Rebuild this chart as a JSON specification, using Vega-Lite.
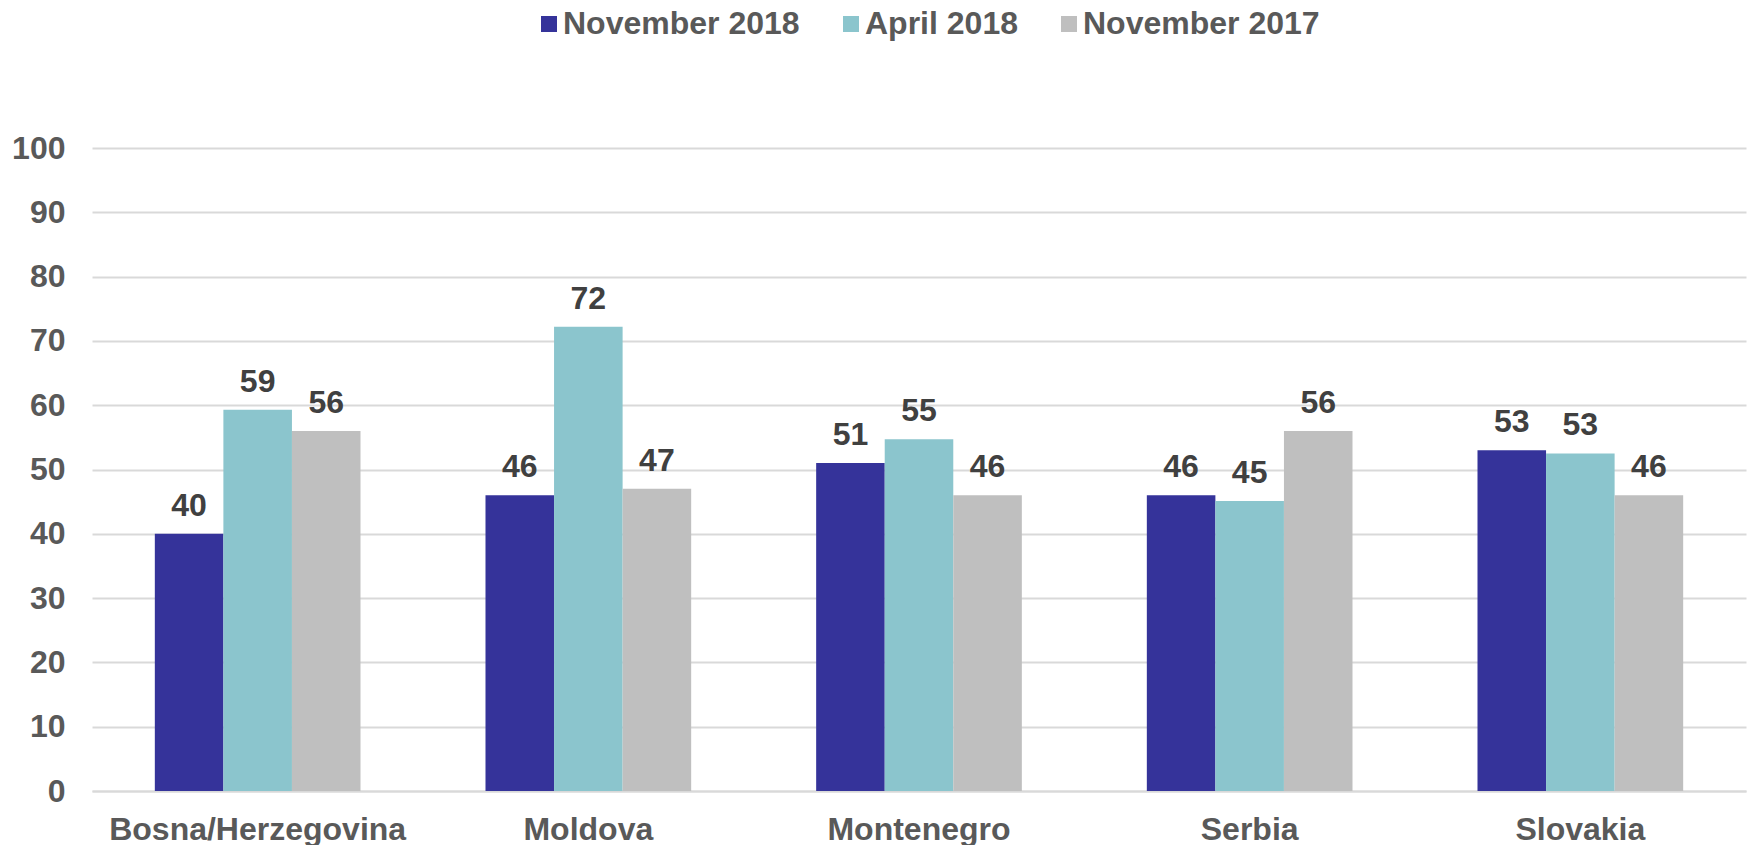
{
  "$schema": "https://vega.github.io/schema/vega-lite/v6.json",
  "width": 1654,
  "height": 643,
  "autosize": {"type": "none"},
  "padding": {"left": 92, "top": 148, "right": 4, "bottom": 54},
  "background": "white",
  "config": {"view": {"stroke": null}, "font": "Liberation Sans"},
  "data": {
    "values": [
      {"country": "Bosna/Herzegovina", "period": "November 2018", "value": 40},
      {"country": "Bosna/Herzegovina", "period": "April 2018", "value": 59.3},
      {"country": "Bosna/Herzegovina", "period": "November 2017", "value": 56},
      {"country": "Moldova", "period": "November 2018", "value": 46},
      {"country": "Moldova", "period": "April 2018", "value": 72.2},
      {"country": "Moldova", "period": "November 2017", "value": 47},
      {"country": "Montenegro", "period": "November 2018", "value": 51},
      {"country": "Montenegro", "period": "April 2018", "value": 54.7},
      {"country": "Montenegro", "period": "November 2017", "value": 46},
      {"country": "Serbia", "period": "November 2018", "value": 46},
      {"country": "Serbia", "period": "April 2018", "value": 45.1},
      {"country": "Serbia", "period": "November 2017", "value": 56},
      {"country": "Slovakia", "period": "November 2018", "value": 53},
      {"country": "Slovakia", "period": "April 2018", "value": 52.5},
      {"country": "Slovakia", "period": "November 2017", "value": 46}
    ]
  },
  "encoding": {
    "x": {
      "field": "country",
      "type": "nominal",
      "sort": null,
      "scale": {"paddingInner": 0.378, "paddingOuter": 0.19},
      "axis": {
        "title": null,
        "labelAngle": 0,
        "labelLimit": 0,
        "labelFont": "Liberation Sans",
        "labelFontSize": 32,
        "labelFontWeight": "bold",
        "labelColor": "#595959",
        "labelPadding": 23,
        "ticks": false,
        "domainColor": "#d9d9d9",
        "domainWidth": 2,
        "grid": false
      }
    },
    "xOffset": {
      "field": "period",
      "type": "nominal",
      "sort": ["November 2018", "April 2018", "November 2017"],
      "scale": {"paddingInner": 0, "paddingOuter": 0}
    },
    "y": {
      "field": "value",
      "type": "quantitative",
      "scale": {"domain": [0, 100], "nice": false},
      "axis": {
        "title": null,
        "values": [0, 10, 20, 30, 40, 50, 60, 70, 80, 90, 100],
        "labelFont": "Liberation Sans",
        "labelFontSize": 32,
        "labelFontWeight": "bold",
        "labelColor": "#595959",
        "labelPadding": 27,
        "ticks": false,
        "domain": false,
        "grid": true,
        "gridColor": "#d9d9d9",
        "gridWidth": 2
      }
    }
  },
  "layer": [
    {
      "mark": {"type": "bar"},
      "encoding": {
        "color": {
          "field": "period",
          "type": "nominal",
          "sort": ["November 2018", "April 2018", "November 2017"],
          "scale": {
            "domain": ["November 2018", "April 2018", "November 2017"],
            "range": ["#35339a", "#8bc5cd", "#bfbfbf"]
          },
          "legend": {
            "title": null,
            "orient": "none",
            "direction": "horizontal",
            "legendX": 441,
            "legendY": -140,
            "symbolType": "square",
            "symbolSize": 256,
            "symbolStrokeWidth": 0,
            "symbolOpacity": 1,
            "labelFont": "Liberation Sans",
            "labelFontSize": 32,
            "labelFontWeight": "bold",
            "labelColor": "#595959",
            "labelLimit": 0,
            "labelOffset": -2,
            "columnPadding": 35
          }
        }
      }
    },
    {
      "mark": {
        "type": "text",
        "baseline": "alphabetic",
        "dy": -18,
        "font": "Liberation Sans",
        "fontSize": 32,
        "fontWeight": "bold",
        "color": "#404040"
      },
      "encoding": {
        "text": {"field": "value", "type": "quantitative", "format": ".0f"}
      }
    }
  ]
}
